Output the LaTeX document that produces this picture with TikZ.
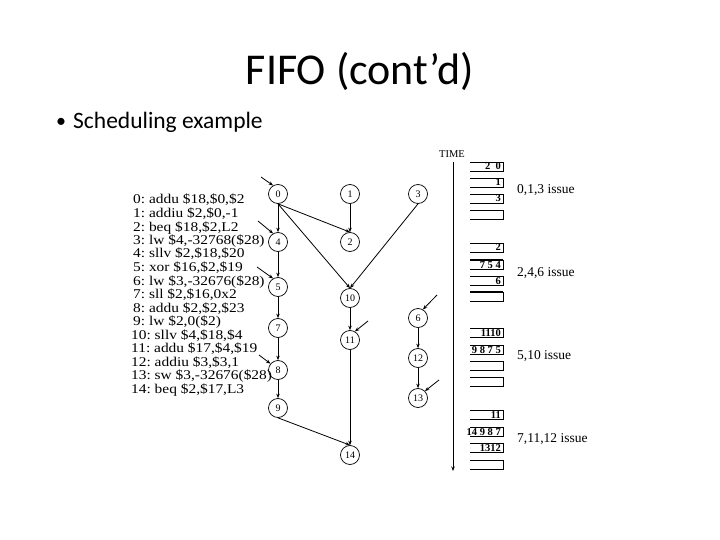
\documentclass[tikz,border=0pt]{standalone}
\usepackage{fontspec}
\usepackage{graphicx}
\setmainfont{Liberation Serif}
\newfontfamily\calibri{Carlito}
\usetikzlibrary{arrows.meta}
\newcommand\codeln[1]{\scalebox{1.15}[1]{#1}}
\begin{document}
\frenchspacing
\begin{tikzpicture}[x=1pt,y=-1pt,
  vtx/.style={circle,draw,line width=0.7pt,minimum size=19pt,inner sep=0pt,font=\fontsize{10}{10}\selectfont},
  edge/.style={line width=0.8pt,-{Stealth[length=4.5pt,width=3.5pt]}},
  code/.style={anchor=base west,inner sep=0pt,font=\fontsize{13.4}{13.4}\selectfont},
  slot/.style={line width=0.7pt},
  thickslot/.style={line width=1.8pt},
  slotlbl/.style={anchor=base east,inner sep=0pt,font=\fontsize{10.5}{10.5}\selectfont\bfseries},
  issue/.style={anchor=west,inner sep=0pt,font=\fontsize{13.5}{13.5}\selectfont}]
\fill[white] (0,0) rectangle (720,540);
\useasboundingbox (0,0) rectangle (720,540);

% title and bullet
\node[font=\calibri\fontsize{44}{44}\selectfont,anchor=base,inner sep=0pt] (title) at (360,85) {FIFO (cont’d)};
\node[font=\calibri\fontsize{20}{20}\selectfont,anchor=base west,inner sep=0pt] (bul) at (56,128) {•};
\node[font=\calibri\fontsize{23.5}{23.5}\selectfont,anchor=base west,inner sep=0pt] (sub) at (73,129) {Scheduling example};

% code listing
\node[code] (l0) at (133,204) {\codeln{0: addu \$18,\$0,\$2}};
\node[code] (l1) at (133,217.5) {\codeln{1: addiu \$2,\$0,-1}};
\node[code] (l2) at (133,231) {\codeln{2: beq \$18,\$2,L2}};
\node[code] (l3) at (133,244.5) {\codeln{3: lw \$4,-32768(\$28)}};
\node[code] (l4) at (133,258) {\codeln{4: sllv \$2,\$18,\$20}};
\node[code] (l5) at (133,271.5) {\codeln{5: xor \$16,\$2,\$19}};
\node[code] (l6) at (133,285) {\codeln{6: lw \$3,-32676(\$28)}};
\node[code] (l7) at (133,298.5) {\codeln{7: sll \$2,\$16,0x2}};
\node[code] (l8) at (133,312) {\codeln{8: addu \$2,\$2,\$23}};
\node[code] (l9) at (133,325.5) {\codeln{9: lw \$2,0(\$2)}};
\node[code] (l10) at (131,339) {\codeln{10: sllv \$4,\$18,\$4}};
\node[code] (l11) at (131,352.5) {\codeln{11: addu \$17,\$4,\$19}};
\node[code] (l12) at (131,366) {\codeln{12: addiu \$3,\$3,1}};
\node[code] (l13) at (131,379.5) {\codeln{13: sw \$3,-32676(\$28)}};
\node[code] (l14) at (131,393) {\codeln{14: beq \$2,\$17,L3}};

% dependence graph
\node[vtx] (n0) at (278,194) {0};
\node[vtx] (n1) at (350,194) {1};
\node[vtx] (n3) at (418,194) {3};
\node[vtx] (n4) at (278,242) {4};
\node[vtx] (n2) at (350,242) {2};
\node[vtx] (n5) at (278,287) {5};
\node[vtx] (n10) at (350,298) {10};
\node[vtx] (n6) at (418,318) {6};
\node[vtx] (n7) at (278,328) {7};
\node[vtx] (n11) at (350,340) {11};
\node[vtx] (n12) at (418,358) {12};
\node[vtx] (n8) at (278,370) {8};
\node[vtx] (n13) at (418,398) {13};
\node[vtx] (n9) at (278,408) {9};
\node[vtx] (n14) at (350,455) {14};

\draw[edge] (n0.south) -- (n4.north);
\draw[edge] (n0.south) -- (n2.north);
\draw[edge] (n0.south) -- (n10.north);
\draw[edge] (n1.south) -- (n2.north);
\draw[edge] (n3.south) -- (n10.north);
\draw[edge] (n4.south) -- (n5.north);
\draw[edge] (n5.south) -- (n7.north);
\draw[edge] (n7.south) -- (n8.north);
\draw[edge] (n8.south) -- (n9.north);
\draw[edge] (n9.south) -- (n14.north);
\draw[edge] (n10.south) -- (n11.north);
\draw[edge] (n11.south) -- (n14.north);
\draw[edge] (n6.south) -- (n12.north);
\draw[edge] (n12.south) -- (n13.north);

\coordinate (i0) at (261,177);
\coordinate (i4) at (258,221);
\coordinate (i5) at (257,267);
\coordinate (i8) at (259,355);
\coordinate (i11) at (368,321);
\coordinate (i6) at (437,295);
\coordinate (i13) at (439,380);
\draw[edge] (i0) -- (n0.120);
\draw[edge] (i4) -- (n4.120);
\draw[edge] (i5) -- (n5.120);
\draw[edge] (i8) -- (n8.140);
\draw[edge] (i11) -- (n11.60);
\draw[edge] (i6) -- (n6.60);
\draw[edge] (i13) -- (n13.45);

% time axis
\node[font=\fontsize{10.5}{10.5}\selectfont,inner sep=0pt] (time) at (452,154) {TIME};
\coordinate (t0) at (453,162);
\coordinate (t1) at (453,471);
\draw[edge] (t0) -- (t1);

% issue slots
\foreach \t/\lab/\nm in {162/{2\ \ 0}/s1, 178/1/s2, 194/3/s3, 210/{}/s4,
  243/2/s5, 260/{7 5 4}/s6, 276/6/s7, 292/{}/s8,
  328/1110/s9, 345/{9 8 7 5}/s10, 361/{}/s11, 377/{}/s12,
  410/11/s13, 427/{14 9 8 7}/s14, 443/1312/s15, 460/{}/s16}{
  \draw[slot] (470,\t) -- (503,\t) -- (503,\t+9.5) -- (470,\t+9.5);
  \node[slotlbl] (\nm) at (501,\t+8) {\lab};
}
\draw[thickslot] (470,260) -- (503,260);
\draw[thickslot] (470,292) -- (503,292);
\draw[thickslot] (472,452.5) -- (503,452.5);

\node[issue] (g1) at (517,190) {0,1,3 issue};
\node[issue] (g2) at (517,273) {2,4,6 issue};
\node[issue] (g3) at (517,356) {5,10 issue};
\node[issue] (g4) at (517,439) {7,11,12 issue};
\end{tikzpicture}
\end{document}
